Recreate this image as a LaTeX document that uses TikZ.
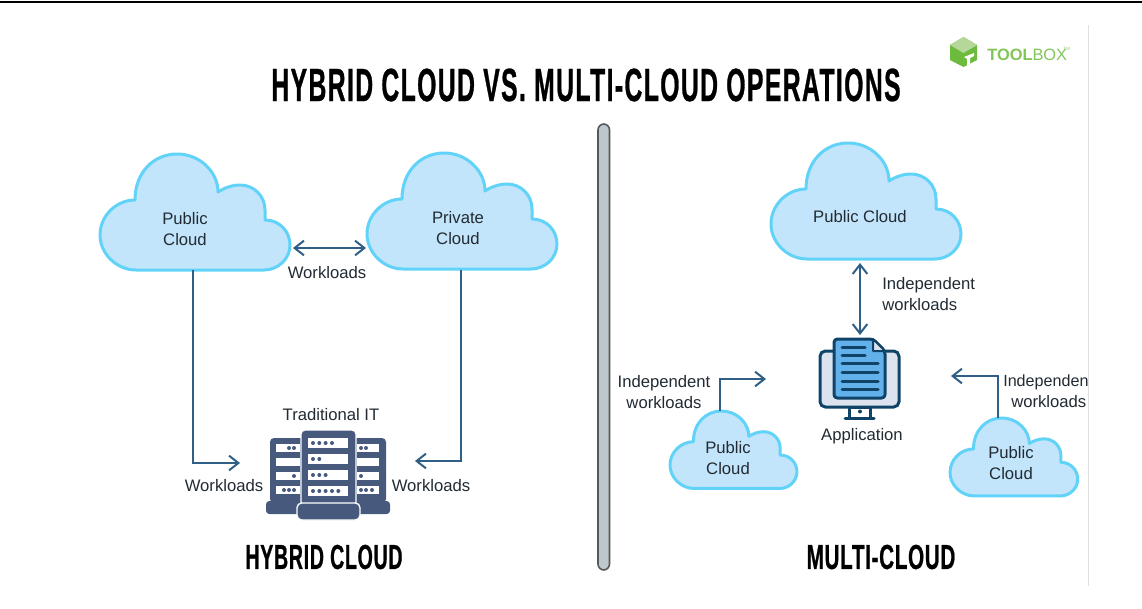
\documentclass[tikz,border=0pt]{standalone}
\usepackage{fontspec}
\setmainfont{Liberation Sans}
\newfontfamily\titlefont[FakeStretch=0.53,LetterSpace=3,FakeBold=0.6]{Liberation Sans Bold}
\newfontfamily\subfont[FakeStretch=0.565,LetterSpace=2,FakeBold=0.6]{Liberation Sans Bold}
\newfontfamily\subfontb[FakeStretch=0.595,LetterSpace=2,FakeBold=0.6]{Liberation Sans Bold}
\usetikzlibrary{arrows.meta}
\definecolor{cloudfill}{HTML}{C3E5FB}
\definecolor{cloudline}{HTML}{62D3F8}
\definecolor{conn}{HTML}{2F5F86}
\definecolor{srv}{HTML}{475A7E}
\definecolor{appline}{HTML}{0F4468}
\definecolor{appfill}{HTML}{62B1EA}
\definecolor{appscreen}{HTML}{DDE3EE}
\definecolor{logog}{HTML}{6CBB3C}
\definecolor{logol}{HTML}{B5D89A}
\definecolor{bartone}{HTML}{BCC8CE}
\definecolor{txt}{HTML}{222B33}
\tikzset{
  x=0.75pt,y=-0.75pt,
  cloudshape/.style={draw=cloudline,fill=cloudfill,line width=2.25pt,line join=round},
  lbl/.style={font=\fontsize{12.5}{15.75}\selectfont,text=txt,align=center,inner sep=0pt},
  conn/.style={draw=conn,line width=1.5pt,-{Straight Barb[length=7pt,width=11pt,line width=1.5pt]}},
  dconn/.style={draw=conn,line width=1.5pt,{Straight Barb[length=7pt,width=11pt,line width=1.5pt]}-{Straight Barb[length=7pt,width=11pt,line width=1.5pt]}},
  srvslot/.style={fill=white},
  srvdot/.style={fill=srv},
  heading/.style={font=\subfont\fontsize{26}{26}\selectfont,text=black,inner sep=0pt},
  cloudpic/.pic={
    \path[cloudshape]
      (36,116) .. controls (17,116) and (0,100) .. (0,81)
      .. controls (0,62) and (16,46) .. (35,46)
      .. controls (35,18) and (54,0) .. (77,0)
      .. controls (100,0) and (118,18) .. (118,38)
      .. controls (124,34) and (132,31) .. (140,31)
      .. controls (154,31) and (165,42) .. (165,56)
      .. controls (165,60) and (165,63) .. (165,66)
      .. controls (180,66) and (190,78) .. (190,91)
      .. controls (190,105) and (178,116) .. (164,116)
      -- cycle;
  }
}
\begin{document}
\begin{tikzpicture}
\useasboundingbox (0,0) rectangle (1142,608);
\fill[white] (0,0) rectangle (1142,608);
\draw[black,line width=1.5pt] (0,2) -- (1142,2);
\draw[gray!25,line width=0.75pt] (1088,25) -- (1088,586);

% logo
\fill[logog] (950,45) -- (963.5,37) -- (977,45) -- (977,60) -- (963.5,67) -- (950,60) -- cycle;
\fill[logol] (950,45) -- (963.5,37) -- (977,45) -- (963.5,53) -- cycle;
\fill[white] (964,57) -- (974,53) -- (974,56) -- (970,58) -- (970,64) -- (967,65) -- (967,59) -- cycle;
\node[anchor=west,inner sep=0pt,text=logog!85!white,font=\fontsize{12.3}{13}\selectfont] (logo) at (987,54.5) {\textbf{TOOL}BOX};
\node[anchor=west,inner sep=0pt,text=logog!70!white,font=\fontsize{3.5}{4}\selectfont] (tm) at (1063,49) {TM};

% title and divider
\node[heading,font=\titlefont\fontsize{35}{35}\selectfont] (title) at (586,85) {HYBRID CLOUD VS. MULTI-CLOUD OPERATIONS};
\fill[bartone,draw=black!65,line width=1.2pt,rounded corners=4.5pt] (598,124) rectangle (609.5,570);
\node[heading] (hybrid) at (324,557) {HYBRID CLOUD};
\node[heading,font=\subfontb\fontsize{26}{26}\selectfont] (multi) at (881,557) {MULTI-CLOUD};

% clouds
\pic[xshift=75pt,yshift=-115.5pt] {cloudpic};
\node[lbl] (pub1) at (185,229) {Public\\Cloud};
\pic[xshift=275.25pt,yshift=-114.75pt] {cloudpic};
\node[lbl] (priv) at (458,228) {Private\\Cloud};
\pic[xshift=578.25pt,yshift=-107.25pt] {cloudpic};
\node[lbl] (pub2) at (860,217) {Public Cloud};
\pic[xshift=502.5pt,yshift=-308.25pt,scale=0.668] {cloudpic};
\node[lbl] (pub3) at (728,458) {Public\\Cloud};
\pic[xshift=712.5pt,yshift=-313.5pt,scale=0.672] {cloudpic};
\node[lbl] (pub4) at (1011,463) {Public\\Cloud};

% server icon
\fill[srv,rounded corners=3pt] (270,438) rectangle (306,503);
\fill[srv,rounded corners=3pt] (350,438) rectangle (386,503);
\fill[srv,rounded corners=2.5pt] (266,501) rectangle (300,514);
\fill[srv,rounded corners=2.5pt] (356,501) rectangle (390,514);
\foreach \y in {444,458,472,486} {\fill[srvslot] (276,\y) rectangle (300,\y+8); \fill[srvslot] (357,\y) rectangle (379,\y+8);}
\foreach \x/\y in {289/448,294/448,294/476,284/490,289/490,294/490,361/448,366/448,361/476,361/490,366/490,372/490} {\fill[srvdot] (\x,\y) circle (1.5pt);}
\fill[srv,draw=white,line width=1pt,rounded corners=3pt] (301,430) rectangle (356,506);
\foreach \y in {438,454,470,486} {\fill[srvslot] (308,\y) rectangle (348,\y+9.5);}
\foreach \x/\y in {313/443,319.3/443,325.6/443,332/443,313/459,319.3/459,313/475,319.3/475,325.6/475,313/491,319.3/491,325.6/491,332/491,338.3/491} {\fill[srvdot] (\x,\y) circle (1.5pt);}
\fill[srv,draw=white,line width=1pt,rounded corners=3.5pt] (297,503) rectangle (360,520);
\node[lbl] (trad) at (331,414.5) {Traditional IT};
\coordinate (srvL) at (240,463);
\coordinate (srvR) at (415,461);

% application icon
\fill[appscreen,draw=appline,line width=2.25pt,rounded corners=4pt] (820,351) rectangle (899,407);
\fill[white,draw=appline,line width=2.25pt] (849,407) rectangle (870,418);
\draw[appline,line width=2.25pt,line cap=round] (845,418.5) -- (874,418.5);
\fill[appline] (860,411.5) circle (1.5pt);
\fill[appfill,draw=appline,line width=2.25pt,line join=round,rounded corners=2.5pt] (834,339) -- (873,339) -- (885,351) -- (885,398) -- (834,398) -- cycle;
\fill[appscreen,draw=appline,line width=1.5pt,line join=round] (873,339) -- (873,351) -- (885,351) -- cycle;
\foreach \y in {347,355} {\draw[appline,line width=2.25pt,line cap=round] (842,\y) -- (865,\y);}
\foreach \y in {363,372,381,389} {\draw[appline,line width=2.25pt,line cap=round] (842,\y) -- (878,\y);}
\node[lbl] (app) at (862,436) {Application};

% connector anchors
\coordinate (pub1s) at (193,270);
\coordinate (privs) at (461,270);
\coordinate (pub1e) at (293,248);
\coordinate (prive) at (366,248);
\coordinate (pub2s) at (860,263);
\coordinate (appn) at (860,335);
\coordinate (pub3n) at (720,411);
\coordinate (appL) at (766,379);
\coordinate (pub4n) at (998,418);
\coordinate (appR) at (951,376);

% connectors
\draw[dconn] (pub1e) -- (prive);
\draw[conn] (pub1s) |- (srvL);
\draw[conn] (privs) |- (srvR);
\draw[dconn] (pub2s) -- (appn);
\draw[conn] (pub3n) |- (appL);
\draw[conn] (pub4n) |- (appR);

% labels
\node[lbl] (w1) at (327,272.5) {Workloads};
\node[lbl] (w2) at (224,485.5) {Workloads};
\node[lbl] (w3) at (431,485.5) {Workloads};
\node[lbl,anchor=west,align=left] (ind1) at (882,294) {Independent\\workloads};
\node[lbl] (ind2) at (664,392) {Independent\\workloads};
\node[lbl,anchor=west,font=\fontsize{12.1}{15.75}\selectfont] (ind3) at (1003,382) {Independen};
\node[lbl,anchor=west] (ind4) at (1011,402) {workloads};
\end{tikzpicture}
\end{document}
